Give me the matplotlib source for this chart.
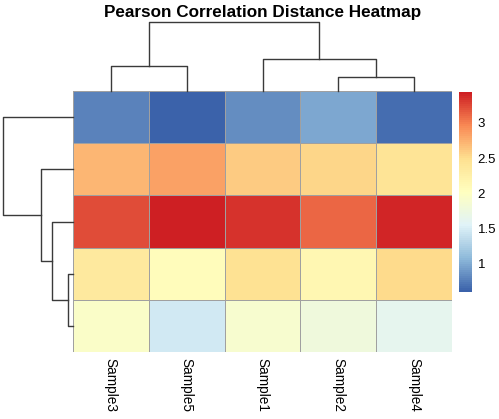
import numpy as np
import matplotlib
matplotlib.use("Agg")
import matplotlib.pyplot as plt
from matplotlib.colors import LinearSegmentedColormap, Normalize

plt.rcParams['font.family'] = ['Liberation Sans', 'DejaVu Sans']

# --- data (rows top to bottom, columns in dendrogram order) ---
col_labels = ["Sample3", "Sample5", "Sample1", "Sample2", "Sample4"]
values = np.array([
    [0.78, 0.60, 0.85, 0.98, 0.68],
    [2.72, 2.83, 2.60, 2.55, 2.42],
    [3.22, 3.44, 3.33, 3.10, 3.41],
    [2.36, 2.05, 2.47, 2.16, 2.53],
    [1.94, 1.46, 1.88, 1.78, 1.65],
])
cbar_ticks = [1, 1.5, 2, 2.5, 3]
cbar_ticklabels = ["1", "1.5", "2", "2.5", "3"]

# merges: (left child, right child, height); leaves are 0..n-1, new nodes n, n+1, ...
col_merges = [(3, 4, 0.20), (0, 1, 0.36), (2, 5, 0.46), (6, 7, 1.0)]
row_merges = [(3, 4, 0.076), (2, 5, 0.30), (1, 6, 0.46), (0, 7, 1.0)]

palette = ["#3B62AA", "#8FBADA", "#E0F3F8", "#FFFFBF", "#FEE090", "#F98A55", "#CE1F23"]
cmap = LinearSegmentedColormap.from_list("rdylbu_rev", palette, N=100)
norm = Normalize(vmin=values.min(), vmax=values.max())

W, H = 499, 419
fig = plt.figure(figsize=(W / 100, H / 100), dpi=100)


def fax(x0, y0, x1, y1):
    # pixel box -> figure axes
    return fig.add_axes([x0 / W, 1 - y1 / H, (x1 - x0) / W, (y1 - y0) / H])


def draw_dendro(ax, merges, n, vertical=True):
    pos = {i: i + 0.5 for i in range(n)}
    hgt = {i: 0.0 for i in range(n)}
    for k, (a, b, h) in enumerate(merges):
        xs = [pos[a], pos[a], pos[b], pos[b]]
        ys = [hgt[a], h, h, hgt[b]]
        if vertical:
            ax.plot(xs, ys, color="#3a3a3a", lw=1.0, clip_on=False)
        else:
            ax.plot(ys, xs, color="#3a3a3a", lw=1.0, clip_on=False)
        pos[n + k] = (pos[a] + pos[b]) / 2
        hgt[n + k] = h
    ax.set_axis_off()


# heatmap
ax = fax(73, 91, 452, 352)
nr, nc = values.shape
ax.pcolormesh(np.arange(nc + 1), np.arange(nr + 1), values, cmap=cmap, norm=norm,
              edgecolors="#a0a0a0", linewidth=0.6)
ax.set_xlim(0, nc)
ax.set_ylim(nr, 0)
ax.set_yticks([])
ax.set_xticks(np.arange(nc) + 0.5)
ax.set_xticklabels(col_labels, rotation=270, fontsize=9.8)
ax.tick_params(axis="x", length=0, pad=4)
for s in ax.spines.values():
    s.set_visible(False)

# column dendrogram
axc = fax(73, 22, 452, 91)
draw_dendro(axc, col_merges, nc, vertical=True)
axc.set_xlim(0, nc)
axc.set_ylim(0, 1)

# row dendrogram
axr = fax(3, 91, 73, 352)
draw_dendro(axr, row_merges, nr, vertical=False)
axr.set_xlim(1, 0)
axr.set_ylim(nr, 0)

# colorbar
cax = fax(459, 92, 472, 292)
sm = plt.cm.ScalarMappable(cmap=cmap, norm=norm)
cb = fig.colorbar(sm, cax=cax)
cb.outline.set_visible(False)
cb.set_ticks(cbar_ticks)
cb.set_ticklabels(cbar_ticklabels)
cax.tick_params(length=0, labelsize=9.5, pad=4)

fig.text(262.5 / W, 1 - 12 / H, "Pearson Correlation Distance Heatmap",
         ha="center", va="center", fontsize=12.3, fontweight="bold")

fig.savefig("out.png", dpi=100)
